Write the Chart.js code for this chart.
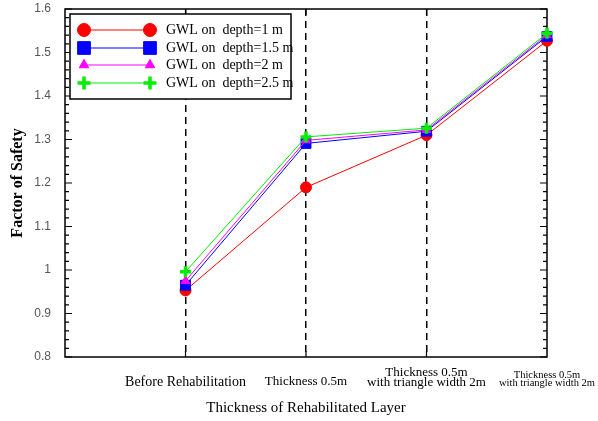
<!DOCTYPE html>
<html>
<head>
<meta charset="utf-8">
<script src="https://cdn.jsdelivr.net/npm/chart.js@4.4.0/dist/chart.umd.min.js"></script>
<style>
  html, body { margin: 0; padding: 0; background: #fff; }
  #wrap { width: 598px; height: 421px; }
</style>
</head>
<body>
<div id="wrap"><canvas id="fosChart" width="598" height="421"></canvas></div>
<script>
// categories along the x axis (positions 0..3), axis starts at -1
const categories = [
  'Before Rehabilitation',
  'Thickness 0.5m',
  ['Thickness 0.5m', 'with triangle width 2m'],
  ['Thickness 0.5m', 'with triangle width 2m']
];
const xPositions = [0, 1, 2, 3];

const seriesNames = ['GWL on  depth=1 m', 'GWL on  depth=1.5 m', 'GWL on  depth=2 m', 'GWL on  depth=2.5 m'];
const depth1 = [0.953, 1.19, 1.31, 1.527];
const depth15 = [0.965, 1.291, 1.319, 1.537];
const depth2 = [0.975, 1.298, 1.322, 1.54];
const depth25 = [0.996, 1.306, 1.326, 1.544];

const yTicks = [0.8, 0.9, 1.0, 1.1, 1.2, 1.3, 1.4, 1.5, 1.6];

const serif = "'Liberation Serif', 'Times New Roman', serif";

const styles = [
  { color: '#ff0000', point: 'circle', r: 5.5, lr: 6.5, bw: 1 },
  { color: '#0000ff', point: 'rect', r: 7, lr: 9, bw: 1 },
  { color: '#ff00ff', point: 'triangle', r: 5, lr: 5.5, bw: 1 },
  { color: '#00ee00', point: 'cross', r: 5.5, lr: 6.5, bw: 3.5 }
];

function makeSet(i, values) {
  const s = styles[i];
  return {
    label: seriesNames[i],
    data: values.map((v, k) => ({ x: xPositions[k], y: v })),
    borderColor: s.color,
    backgroundColor: s.color,
    pointBackgroundColor: s.color,
    pointBorderColor: s.color,
    pointStyle: s.point,
    pointRadius: s.r,
    pointBorderWidth: s.bw,
    borderWidth: 1,
    tension: 0,
    clip: false,
    order: 4 - i
  };
}

// per-category tick font
function tickFont(c) {
  const v = c.tick ? c.tick.value : null;
  if (v === 3) return { family: serif, size: 10.5, lineHeight: '8px' };
  if (v === 0) return { family: serif, size: 14, lineHeight: '2px' };
  if (v === 1) return { family: serif, size: 13, lineHeight: '2px' };
  return { family: serif, size: 13, lineHeight: '10px' };
}

// frame, inward ticks (major + minor)
const framePlugin = {
  id: 'frame',
  beforeDatasetsDraw(chart) {
    const { ctx, chartArea: a, scales } = chart;
    const ys = scales.y, xs = scales.x;
    ctx.save();
    ctx.strokeStyle = '#000';
    ctx.lineWidth = 1.5;
    ctx.strokeRect(a.left, a.top, a.right - a.left, a.bottom - a.top);
    ctx.lineWidth = 1.2;
    ctx.beginPath();
    for (let k = 0; k <= 40; k++) {
      const v = 0.8 + k * 0.02;
      const py = ys.getPixelForValue(v);
      const len = k % 5 === 0 ? 7 : 4;
      ctx.moveTo(a.left, py); ctx.lineTo(a.left + len, py);
      ctx.moveTo(a.right, py); ctx.lineTo(a.right - len, py);
    }
    xPositions.slice(0, 3).forEach(v => {
      const px = xs.getPixelForValue(v);
      ctx.moveTo(px, a.bottom); ctx.lineTo(px, a.bottom - 6);
      ctx.moveTo(px, a.top); ctx.lineTo(px, a.top + 6);
    });
    ctx.stroke();
    ctx.restore();
  }
};

// legend with a marker at both ends of the line sample
const legendPlugin = {
  id: 'endLegend',
  afterDraw(chart) {
    const ctx = chart.ctx;
    const box = { left: 70, top: 14, right: 291, bottom: 99 };
    const rows = [30, 48, 65, 83];
    ctx.save();
    ctx.fillStyle = '#fff';
    ctx.fillRect(box.left, box.top, box.right - box.left, box.bottom - box.top);
    ctx.strokeStyle = '#000';
    ctx.lineWidth = 1.5;
    ctx.strokeRect(box.left, box.top, box.right - box.left, box.bottom - box.top);
    chart.data.datasets.forEach((ds, i) => {
      const s = styles[i];
      const y = rows[i];
      ctx.strokeStyle = s.color;
      ctx.lineWidth = 1;
      ctx.beginPath();
      ctx.moveTo(84, y); ctx.lineTo(150, y);
      ctx.stroke();
      ctx.fillStyle = s.color;
      ctx.strokeStyle = s.color;
      ctx.lineWidth = s.bw;
      [84, 150].forEach(px => {
        Chart.helpers.drawPoint(ctx, { pointStyle: s.point, radius: s.lr, borderWidth: s.bw, rotation: 0 }, px, y);
      });
      ctx.fillStyle = '#000';
      ctx.font = '14px ' + serif;
      ctx.textBaseline = 'middle';
      ctx.textAlign = 'left';
      ctx.fillText(ds.label, 166, y);
    });
    ctx.restore();
  }
};

const ctx = document.getElementById('fosChart').getContext('2d');
new Chart(ctx, {
  type: 'line',
  data: {
    datasets: [makeSet(0, depth1), makeSet(1, depth15), makeSet(2, depth2), makeSet(3, depth25)]
  },
  plugins: [framePlugin, legendPlugin],
  options: {
    responsive: false,
    animation: false,
    layout: { padding: { top: 7, right: 51, bottom: 0, left: 0 } },
    plugins: {
      legend: { display: false },
      tooltip: { enabled: false }
    },
    scales: {
      x: {
        type: 'linear',
        min: -1,
        max: 3,
        afterFit(scale) { scale.height = 64; scale.paddingLeft = 0; scale.paddingRight = 0; },
        ticks: {
          stepSize: 1,
          autoSkip: false,
          maxRotation: 0,
          minRotation: 0,
          crossAlign: 'center',
          padding: 16,
          color: '#000',
          font: tickFont,
          callback: v => (xPositions.includes(v) ? categories[v] : '')
        },
        grid: {
          drawTicks: false,
          lineWidth: 1.5,
          color: c => (c.tick && [0, 1, 2].includes(c.tick.value)) ? '#000' : 'rgba(0,0,0,0)'
        },
        border: { display: false, dash: [7, 5] },
        title: {
          display: true,
          text: 'Thickness of Rehabilitated Layer',
          color: '#000',
          font: { family: serif, size: 15 },
          padding: { top: 0, bottom: 4 }
        }
      },
      y: {
        min: yTicks[0],
        max: yTicks[yTicks.length - 1],
        afterFit(scale) { scale.width = 65; scale.paddingTop = 0; scale.paddingBottom = 0; },
        afterBuildTicks(scale) { scale.ticks = yTicks.map(v => ({ value: v })); },
        ticks: {
          padding: 6,
          color: '#555',
          font: { family: "'Liberation Sans', Arial, sans-serif", size: 12 },
          callback: v => String(Number(v.toFixed(1)))
        },
        grid: { display: false },
        border: { display: false },
        title: {
          display: true,
          text: 'Factor of Safety',
          color: '#000',
          font: { family: serif, size: 16, weight: 'bold' },
          padding: { top: 8, bottom: 0 }
        }
      }
    }
  }
});
</script>
</body>
</html>
